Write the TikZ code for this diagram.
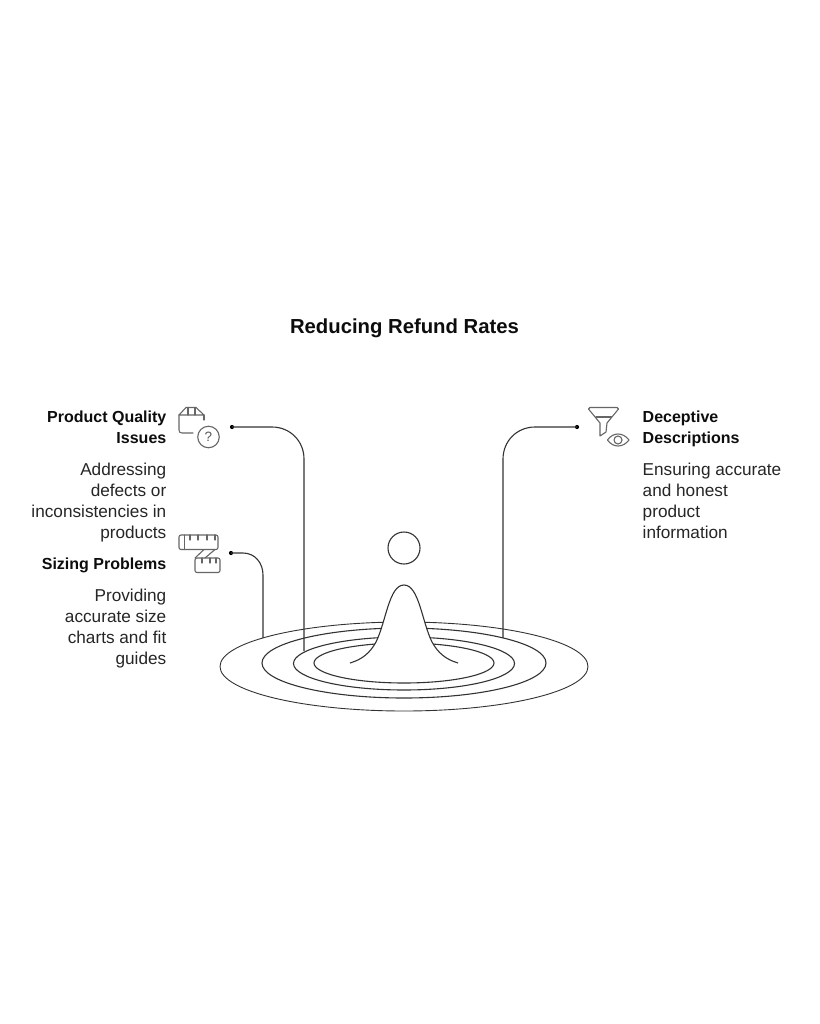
\documentclass[tikz,border=0pt]{standalone}
\usepackage{fontspec}
\setmainfont{Liberation Sans}
\begin{document}
\begin{tikzpicture}[x=1pt,y=-1pt,
  ln/.style={draw=black!80,line width=1.1pt},
  ic/.style={draw=black!60,line width=1.1pt,line join=round,line cap=round},
  head/.style={font=\bfseries\fontsize{16}{21}\selectfont,inner sep=0pt,anchor=north east,align=right,text=black!95},
  headr/.style={head,anchor=north west,align=left},
  body/.style={font=\fontsize{17.2}{21}\selectfont,inner sep=0pt,anchor=north east,align=right,text=black!85},
  bodyr/.style={body,anchor=north west,align=left},
  dotn/.style={circle,fill=black,inner sep=0pt,minimum size=4.2pt}]
\useasboundingbox[fill=white] (0,0) rectangle (819,1024);
\node[font=\bfseries\fontsize{20.3}{24}\selectfont,text=black!95] (title) at (404.5,328) {Reducing Refund Rates};

% ripples
\draw[ln,line width=0.9pt] (404,666.5) ellipse [x radius=184,y radius=44.5];
\draw[ln] (404,663) ellipse [x radius=142,y radius=35];
\draw[ln] (404,663.5) ellipse [x radius=110.5,y radius=26.5];
\draw[ln] (404,663) ellipse [x radius=90,y radius=20];

% connectors
\node[dotn] (d1) at (232,427) {};
\node[dotn] (d2) at (231,553) {};
\node[dotn] (d3) at (577,427) {};
\coordinate (e1) at (304,651);
\coordinate (e2) at (263,638);
\coordinate (e3) at (503,638);
\draw[ln] (d1.center) -- (272,427) .. controls (290,427) and (304,441) .. (304,459) -- (e1);
\draw[ln] (d2.center) -- (243,553) .. controls (255,553) and (263,563) .. (263,575) -- (e2);
\draw[ln] (d3.center) -- (535,427) .. controls (517,427) and (503,441) .. (503,459) -- (e3);

% peak
\filldraw[ln,fill=white] (350,663) .. controls (362,659.5) and (370,653) .. (376,642)
  .. controls (386,622) and (389,585) .. (404,585)
  .. controls (419,585) and (422,622) .. (432,642)
  .. controls (438,653) and (446,659.5) .. (458,663);
\node[circle,ln,inner sep=0pt,minimum size=32pt] (ball) at (404,548) {};

% texts
\node[head] (h1) at (166.5,410.5) {Product Quality\\Issues};
\node[body] (b1) at (166.5,463) {Addressing\\defects or\\inconsistencies in\\products};
\node[head] (h2) at (166.5,558) {Sizing Problems};
\node[body] (b2) at (166.5,589) {Providing\\accurate size\\charts and fit\\guides};
\node[headr] (h3) at (642.5,410.5) {Deceptive\\Descriptions};
\node[bodyr] (b3) at (642.5,463) {Ensuring accurate\\and honest\\product\\information};

% box icon
\draw[ic] (179,415) -- (179,430) .. controls (179,432) and (180,433) .. (182,433) -- (193,433);
\draw[ic] (179,415) -- (186,407.5) -- (196,407.5) -- (204,415) -- cycle;
\draw[ic] (204,415) -- (204,420);
\draw[ic] (188,415) -- (188,407.5) (195,415) -- (195,407.5);
\node[circle,ic,inner sep=0pt,minimum size=21.5pt,font=\fontsize{13.5}{13.5}\selectfont,text=black!65] (q) at (208.5,437) {?};

% tape icon
\draw[ic,rounded corners=2pt] (179,535) rectangle (218,549.5);
\draw[ic] (184.5,535) -- (184.5,549.5);
\foreach \x in {190,198,207,215} \draw[ic] (\x,535) -- (\x,540);
\draw[ic] (204,549.5) -- (195,558) (215,549.5) -- (205,558);
\draw[ic,rounded corners=2pt] (195,558) rectangle (220,572.5);
\foreach \x in {202,210,216} \draw[ic] (\x,558) -- (\x,563);

% funnel icon
\draw[ic] (588.5,409) -- (590,407.5) -- (617,407.5) -- (618.5,409) -- (607,423) -- (606,432) -- (600,436) -- (600,423) -- cycle;
\draw[ic] (596,417) -- (611.5,417);
\draw[ic] (607.5,440) .. controls (613,432) and (623,432) .. (629,440) .. controls (623,448) and (613,448) .. (607.5,440) -- cycle;
\node[circle,ic,inner sep=0pt,minimum size=8pt] (pupil) at (618,440) {};
\end{tikzpicture}
\end{document}
